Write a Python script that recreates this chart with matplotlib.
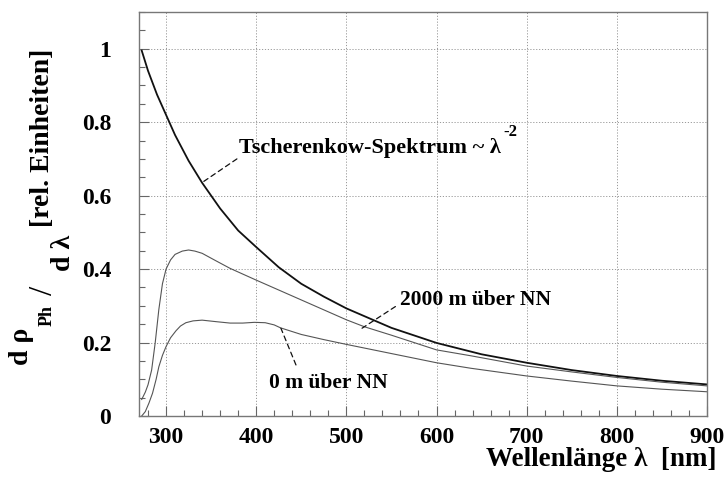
import matplotlib
matplotlib.use('Agg')
import matplotlib.pyplot as plt
from matplotlib.ticker import MultipleLocator

# wavelength samples [nm] and read-off curve values
lam_cher = [273, 280, 290, 300, 310, 325, 340, 360, 380, 400, 425, 450, 475,
            500, 550, 600, 650, 700, 750, 800, 850, 900]
cherenkov = [0.995, 0.94, 0.875, 0.82, 0.765, 0.695, 0.635, 0.565, 0.505, 0.46,
             0.405, 0.36, 0.325, 0.293, 0.24, 0.199, 0.168, 0.145, 0.125, 0.109,
             0.096, 0.086]

lam_2000 = [273, 277, 280, 284, 288, 292, 296, 300, 305, 310, 318, 325, 332,
            340, 355, 371, 400, 450, 500, 520, 550, 600, 638, 700, 750, 800, 850, 900]
h2000 = [0.045, 0.065, 0.085, 0.125, 0.2, 0.29, 0.36, 0.40, 0.425, 0.44, 0.449,
         0.452, 0.449, 0.443, 0.423, 0.402, 0.37, 0.316, 0.262, 0.243, 0.22,
         0.18, 0.164, 0.136, 0.12, 0.105, 0.092, 0.082]

lam_0 = [273, 277, 281, 285, 289, 292, 296, 300, 305, 311, 316, 322, 330, 340,
         355, 371, 385, 398, 410, 420, 427, 450, 475, 500, 550, 600, 638, 700,
         750, 800, 850, 900]
h0 = [0.0, 0.012, 0.035, 0.062, 0.1, 0.134, 0.165, 0.189, 0.213, 0.232, 0.245,
      0.254, 0.259, 0.261, 0.257, 0.253, 0.253, 0.255, 0.254, 0.248, 0.240,
      0.222, 0.208, 0.195, 0.17, 0.145, 0.13, 0.109, 0.095, 0.082, 0.073, 0.066]

xticks = [300, 400, 500, 600, 700, 800, 900]
yticks = [0, 0.2, 0.4, 0.6, 0.8, 1.0]
ytick_labels = ['0', '0.2', '0.4', '0.6', '0.8', '1']

plt.rcParams['font.family'] = 'Liberation Serif'
plt.rcParams['font.weight'] = 'bold'

W, H = 725, 487
fig = plt.figure(figsize=(W / 100, H / 100), dpi=100)
ax = fig.add_axes([139 / W, 1 - 416 / H, (707 - 139) / W, (416 - 12) / H])

ax.plot(lam_cher, cherenkov, color='#111111', lw=1.3)
ax.plot(lam_2000, h2000, color='#555555', lw=0.8)
ax.plot(lam_0, h0, color='#555555', lw=0.8)

ax.set_xlim(270, 900)
ax.set_ylim(0, 1.1)
ax.set_xticks(xticks)
ax.set_yticks(yticks)
ax.set_yticklabels(ytick_labels)
ax.xaxis.set_minor_locator(MultipleLocator(20))
ax.yaxis.set_minor_locator(MultipleLocator(0.05))
ax.grid(True, which='major', color='#999999', linestyle=(0, (1.2, 1.8)), linewidth=0.7)
ax.tick_params(which='both', direction='in', top=False, right=False, color='#666666')
ax.tick_params(which='major', length=7, width=0.8, labelsize=17, pad=8)
ax.tick_params(which='minor', length=4, width=0.8)
ax.tick_params(axis='y', pad=20)
for lbl in ax.get_xticklabels() + ax.get_yticklabels():
    lbl.set_fontweight('bold')
for sp in ax.spines.values():
    sp.set_color('#777777')
    sp.set_linewidth(1.0)

dash = dict(arrowstyle='-', linestyle=(0, (4, 3)), color='#111111', lw=0.9,
            shrinkA=0, shrinkB=0)
ax.annotate('', xy=(340.8, 0.637), xytext=(378.6, 0.70), arrowprops=dash)
ax.text(381, 0.73, 'Tscherenkow-Spektrum ~ λ', fontsize=16, fontweight='bold',
        ha='left', va='center')
ax.text(682, 0.773, '-2', fontsize=12, fontweight='bold', ha='center', va='center')

ax.annotate('', xy=(517.4, 0.239), xytext=(554.4, 0.298), arrowprops=dash)
ax.text(559, 0.315, '2000 m über NN', fontsize=15.5, fontweight='bold',
        ha='left', va='center')

ax.annotate('', xy=(427.4, 0.239), xytext=(444.1, 0.139), arrowprops=dash)
ax.text(414, 0.09, '0 m über NN', fontsize=15.5, fontweight='bold',
        ha='left', va='center')

# axis titles
fig.text(717 / W, 1 - 459 / H, 'Wellenlänge λ  [nm]', fontsize=19.5, fontweight='bold',
         ha='right', va='center')

ylab = dict(rotation=90, fontweight='bold', ha='center', va='center')
fig.text(22 / W, 1 - 346 / H, 'd ρ', fontsize=20, **ylab)
fig.text(47 / W, 1 - 316 / H, 'Ph', fontsize=13, **ylab)
fig.text(44 / W, 1 - 290 / H, '/', fontsize=24, rotation=90, ha='center', va='center',
         fontweight='normal')
fig.text(64 / W, 1 - 253 / H, 'd λ', fontsize=20, **ylab)
fig.text(43 / W, 1 - 138 / H, '[rel. Einheiten]', fontsize=20, **ylab)

fig.savefig('out.png', dpi=100)
